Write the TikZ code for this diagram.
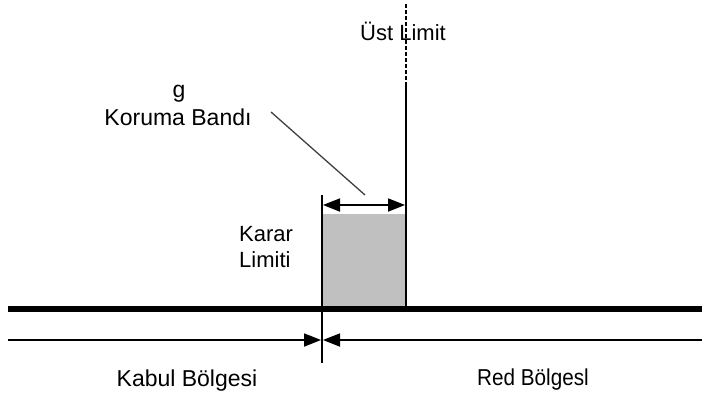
\documentclass[tikz,border=0pt]{standalone}
\usepackage{fontspec}
\setmainfont{Liberation Sans}
\usetikzlibrary{arrows.meta}
\definecolor{bandgray}{RGB}{192,192,192}
\tikzset{
  lbl/.style={inner sep=0pt, font=\fontsize{23}{28}\selectfont},
  thinline/.style={line width=1.5pt},
  tip/.style={-{Triangle[length=17pt,width=13pt]}},
  dtip/.style={{Triangle[length=17pt,width=13pt]}-{Triangle[length=17pt,width=13pt]}},
}
\begin{document}
\begin{tikzpicture}[x=1pt,y=-1pt]
\useasboundingbox (0,0) rectangle (702,394);
% gray guard band
\fill[bandgray] (322,214) rectangle (406,307);
% coordinates
\coordinate (dtop) at (322,195);
\coordinate (dbot) at (322,363);
\coordinate (utop) at (406,4);
\coordinate (umid) at (406,84);
\coordinate (ubot) at (406,308);
\coordinate (bl) at (8,309);
\coordinate (br) at (702,309);
\coordinate (al) at (8,340);
\coordinate (ar) at (702,340);
\coordinate (atl) at (321,340);
\coordinate (atr) at (323,340);
\coordinate (gl) at (323,205);
\coordinate (gr) at (405,205);
\coordinate (ls) at (271,112);
\coordinate (le) at (365,195);
% lines
\draw[thinline] (dtop) -- (dbot);
\draw[thinline, dash pattern=on 4pt off 2pt] (utop) -- (umid);
\draw[thinline] (umid) -- (ubot);
\draw[line width=5.5pt] (bl) -- (br);
\draw[line width=1.8pt, tip] (al) -- (atl);
\draw[line width=1.8pt, tip] (ar) -- (atr);
\draw[line width=1.8pt, dtip] (gl) -- (gr);
\draw[line width=1.3pt, black!75] (ls) -- (le);
% labels
\node[lbl, font=\fontsize{22}{26}\selectfont] (ust) at (403,31) {Üst Limit};
\node[lbl] (g) at (179,94) {g};
\node[lbl] (koruma) at (178,117) {Koruma Bandı};
\node[lbl, anchor=west, font=\fontsize{22}{26}\selectfont] (karar) at (239,234) {Karar};
\node[lbl, anchor=west, font=\fontsize{22}{26}\selectfont] (limiti) at (239,260) {Limiti};
\node[lbl] (kabul) at (187,381) {Kabul Bölgesi};
\node[lbl, xscale=0.9] (red) at (533,380) {Red Bölgesl};
\end{tikzpicture}
\end{document}
